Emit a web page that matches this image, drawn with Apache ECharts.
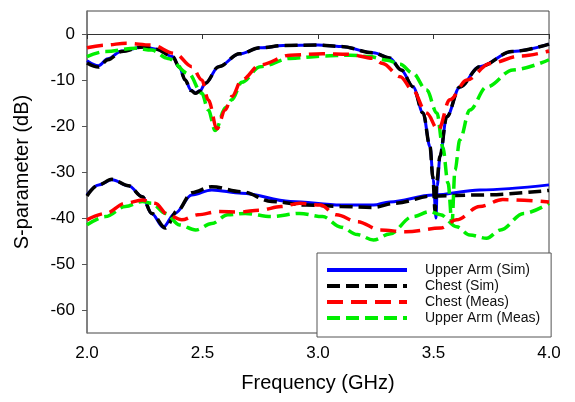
<!DOCTYPE html>
<html>
<head>
<meta charset="utf-8">
<script src="https://cdn.jsdelivr.net/npm/echarts@6/dist/echarts.min.js"></script>
<style>
  html, body { margin: 0; padding: 0; background: #fff; }
  #chart { width: 575px; height: 402px; }
</style>
</head>
<body>
<div id="chart"></div>
<script>
// legend names
const seriesNames = ['Upper Arm (Sim)', 'Chest (Sim)', 'Chest (Meas)', 'Upper Arm (Meas)']
const xTicks = [2.0, 2.5, 3.0, 3.5, 4.0]
const yTicks = [-60, -50, -40, -30, -20, -10, 0]

// [GHz, dB]
const upperArmSimS11 = [[2.0,-5.8],[2.05,-6.9],[2.09,-5.4],[2.15,-3.7],[2.24,-2.8],[2.3,-3.3],[2.37,-4.9],[2.4,-7.2],[2.425,-10],[2.45,-12.2],[2.47,-12.8],[2.49,-12.3],[2.512,-10.7],[2.57,-7.1],[2.66,-4.3],[2.75,-3.0],[2.85,-2.5],[3.0,-2.4],[3.1,-2.7],[3.24,-4.1],[3.31,-5.2],[3.36,-7.8],[3.412,-11.5],[3.455,-17.2],[3.485,-24.5],[3.499,-31.7],[3.511,-40],[3.516,-33],[3.528,-26.7],[3.557,-18],[3.614,-11.5],[3.70,-7.1],[3.84,-3.8],[4.0,-2.2]]
const upperArmSimS21 = [[2.0,-35],[2.05,-32.8],[2.108,-31.7],[2.18,-33],[2.24,-35.4],[2.28,-39],[2.33,-42],[2.38,-39],[2.454,-35],[2.54,-33.9],[2.67,-34.6],[2.88,-36.4],[3.1,-37.2],[3.24,-37.2],[3.31,-36.5],[3.5,-35],[3.7,-33.9],[4.0,-32.8]]

const chestSimS11 = [[2.0,-6.3],[2.05,-7.2],[2.09,-5.6],[2.15,-3.8],[2.24,-2.8],[2.3,-3.3],[2.37,-4.9],[2.4,-7.2],[2.425,-10],[2.45,-12.3],[2.47,-12.9],[2.49,-12.4],[2.512,-10.7],[2.57,-7.1],[2.66,-4.3],[2.75,-3.0],[2.85,-2.5],[3.0,-2.4],[3.1,-2.7],[3.24,-4.1],[3.31,-5.2],[3.36,-7.8],[3.412,-11.5],[3.455,-17.2],[3.485,-24.5],[3.497,-31],[3.507,-38.5],[3.514,-32],[3.528,-26.5],[3.557,-18],[3.614,-11.5],[3.70,-7.1],[3.84,-3.8],[4.0,-2.2]]
const chestSimS21 = [[2.0,-35.2],[2.05,-32.8],[2.108,-31.6],[2.18,-33],[2.24,-35.4],[2.28,-39],[2.34,-42.2],[2.39,-38.5],[2.454,-34.5],[2.54,-33.2],[2.67,-34.3],[2.8,-36.4],[2.95,-37.2],[3.1,-37.5],[3.24,-37.7],[3.33,-36.8],[3.5,-35.2],[3.7,-35],[4.0,-34]]

const chestMeasS11 = [[2.0,-3.0],[2.08,-2.4],[2.17,-2.0],[2.28,-2.4],[2.38,-4.2],[2.454,-7.1],[2.497,-10],[2.525,-14.3],[2.563,-20.6],[2.598,-16.5],[2.627,-13.6],[2.67,-10],[2.75,-6.7],[2.88,-4.6],[3.02,-4.3],[3.13,-4.4],[3.24,-5.3],[3.28,-6.4],[3.356,-9.3],[3.41,-12.2],[3.47,-17.2],[3.521,-20.9],[3.57,-14.3],[3.645,-10],[3.744,-6.4],[3.874,-4.8],[4.0,-3.7]]
const chestMeasS21 = [[2.0,-40.4],[2.08,-39],[2.166,-36.8],[2.24,-36.1],[2.295,-36.8],[2.35,-39.3],[2.41,-40.4],[2.48,-39.3],[2.57,-38.6],[2.66,-38.7],[2.75,-38.3],[2.84,-37.5],[2.92,-36.8],[3.01,-37.2],[3.08,-39.3],[3.17,-40.8],[3.27,-42.6],[3.38,-43],[3.53,-42.2],[3.6,-40.4],[3.7,-37.5],[3.8,-36],[4.0,-36.5]]

const upperArmMeasS11 = [[2.0,-4.9],[2.08,-3.8],[2.21,-3.1],[2.28,-3.5],[2.35,-5.3],[2.44,-8.6],[2.497,-12.9],[2.525,-16.5],[2.555,-21],[2.6,-16],[2.627,-14.3],[2.67,-10.5],[2.75,-7.1],[2.88,-5.3],[3.02,-4.8],[3.14,-4.6],[3.22,-4.9],[3.3,-5.7],[3.356,-6.6],[3.41,-8.5],[3.47,-12.2],[3.515,-17.2],[3.54,-24.5],[3.563,-32.4],[3.58,-41],[3.593,-29.6],[3.614,-23],[3.657,-16.5],[3.73,-11.5],[3.844,-7.8],[4.0,-5.6]]
const upperArmMeasS21 = [[2.0,-41.5],[2.08,-39.7],[2.166,-37.5],[2.24,-36.4],[2.28,-36.8],[2.34,-39],[2.4,-41.5],[2.47,-42.6],[2.54,-41.2],[2.61,-39.3],[2.685,-39],[2.8,-39.7],[2.92,-39],[3.02,-39.7],[3.1,-42],[3.17,-43.6],[3.24,-44.8],[3.31,-43.5],[3.41,-39.7],[3.485,-38.6],[3.53,-39.3],[3.6,-41.9],[3.657,-43.7],[3.73,-44.4],[3.79,-42.6],[3.89,-39],[4.0,-36.8]]

const font = 'Arial, "Liberation Sans", sans-serif'

const makeLine = (name, data, color, width, dash) => ({
  name,
  type: 'line',
  data,
  symbol: 'none',
  smooth: 0.35,
  smoothMonotone: 'x',
  lineStyle: { color, width, type: dash || 'solid' },
  itemStyle: { color },
})

const chart = echarts.init(document.getElementById('chart'))

chart.setOption({
  animation: false,
  backgroundColor: '#fff',
  grid: {
    left: 87,
    right: 26,
    top: 11,
    bottom: 69,
    show: true,
    borderColor: '#444',
    borderWidth: 1,
  },
  legend: {
    data: seriesNames,
    orient: 'vertical',
    left: 317,
    top: 253,
    padding: [10, 11, 12, 8],
    itemWidth: 80,
    itemHeight: 14,
    itemGap: 2,
    borderColor: '#555',
    borderWidth: 1,
    borderRadius: 0,
    backgroundColor: '#fff',
    itemStyle: { opacity: 0, borderWidth: 0 },
    lineStyle: { width: 4 },
    textStyle: { fontSize: 14, fontFamily: font, color: '#111', padding: [0, 0, 0, 13] },
  },
  xAxis: {
    type: 'value',
    min: 2,
    max: 4,
    interval: 0.5,
    name: 'Frequency (GHz)',
    nameLocation: 'middle',
    nameGap: 40,
    nameTextStyle: { fontSize: 20, fontFamily: font, color: '#000' },
    axisLine: { lineStyle: { color: '#333', width: 1 } },
    axisTick: { show: true, length: 5, lineStyle: { color: '#333' } },
    axisLabel: {
      fontSize: 17,
      fontFamily: font,
      color: '#000',
      margin: 12,
      formatter: (v) => (xTicks.includes(v) ? v.toFixed(1) : ''),
    },
    splitLine: { show: false },
  },
  yAxis: {
    type: 'value',
    min: -65,
    max: 5,
    name: 'S-parameter (dB)',
    nameLocation: 'middle',
    nameGap: 55,
    nameTextStyle: { fontSize: 20, fontFamily: font, color: '#000' },
    axisLine: { show: true, lineStyle: { color: '#777', width: 1.5 } },
    axisTick: { show: true, length: 5, customValues: yTicks, lineStyle: { color: '#555' } },
    axisLabel: { fontSize: 17, fontFamily: font, color: '#000', margin: 12, customValues: yTicks },
    splitLine: { show: false },
  },
  series: [
    makeLine(seriesNames[0], upperArmSimS11, '#0000ff', 3),
    makeLine(seriesNames[0], upperArmSimS21, '#0000ff', 3),
    makeLine(seriesNames[1], chestSimS11, '#000000', 3.5, [13, 6]),
    makeLine(seriesNames[1], chestSimS21, '#000000', 3.5, [13, 6]),
    makeLine(seriesNames[3], upperArmMeasS11, '#00ee00', 3.5, [13, 6]),
    makeLine(seriesNames[3], upperArmMeasS21, '#00ee00', 3.5, [13, 6]),
    makeLine(seriesNames[2], chestMeasS11, '#ff0000', 3.5, [16, 8]),
    makeLine(seriesNames[2], chestMeasS21, '#ff0000', 3.5, [16, 8]),
  ],
})

window.addEventListener('resize', () => chart.resize())
</script>
</body>
</html>
